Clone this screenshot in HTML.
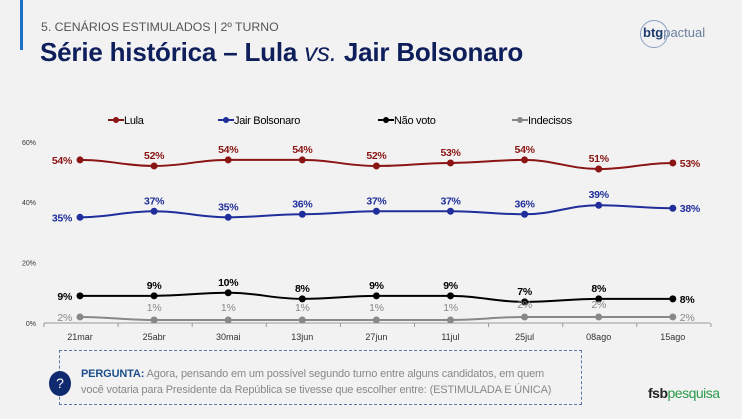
<!DOCTYPE html>
<html><head><meta charset="utf-8"><style>
body{margin:0;width:742px;height:419px;background:#f2f2f2;font-family:"Liberation Sans",sans-serif;overflow:hidden;position:relative}
.abs{position:absolute}
</style></head><body>
<div class="abs" style="left:20px;top:0;width:3px;height:50px;background:#1f6fc6"></div>
<div class="abs" style="left:41px;top:20px;font-size:12.3px;color:#555">5. CENÁRIOS ESTIMULADOS | 2º TURNO</div>
<div class="abs" style="left:40px;top:37px;font-size:26px;font-weight:bold;color:#0f1f5c;letter-spacing:-0.2px">Série histórica – Lula <span style="font-weight:normal;font-style:italic">vs.</span> Jair Bolsonaro</div>
<div class="abs" style="left:643px;top:25px;font-size:13px;color:#1d3a6e"><span style="display:inline-block;border:1px solid #8aa0c0;border-radius:50%;width:26px;height:26px;position:absolute;top:-5px;left:-3px"></span><b>btg</b><span style="color:#6a7fa0">pactual</span></div>
<svg class="abs" style="left:0;top:0" width="742" height="419">
<g id="legend" font-size="11" fill="#000"></g>
<g id="axes"></g><g id="series"></g>
</svg>
<div class="abs" style="left:59px;top:350px;width:523px;height:55px;border:1px dashed #5a78a8;box-sizing:border-box"></div>
<div class="abs" style="left:49px;top:371px;width:22px;height:25px;border-radius:50%;background:#0f2a6e;color:#fff;font-size:14px;text-align:center;line-height:25px">?</div>
<div class="abs" style="left:81px;top:366px;font-size:11px;line-height:16px;color:#888;white-space:nowrap;letter-spacing:-0.15px"><b style="color:#1d4f8c">PERGUNTA:</b> Agora, pensando em um possível segundo turno entre alguns candidatos, em quem<br>você votaria para Presidente da República se tivesse que escolher entre: (ESTIMULADA E ÚNICA)</div>
<div class="abs" style="left:648px;top:385px;font-size:14px;font-weight:bold;color:#222;letter-spacing:-0.5px">fsb<span style="color:#2a9a4a;font-weight:normal">pesquisa</span></div>
<script>
const categories=["21mar","25abr","30mai","13jun","27jun","11jul","25jul","08ago","15ago"];
const lula=[54,52,54,54,52,53,54,51,53];
const bolsonaro=[35,37,35,36,37,37,36,39,38];
const naoVoto=[9,9,10,8,9,9,7,8,8];
const indecisos=[2,1,1,1,1,1,2,2,2];
const yTicks=[0,20,40,60];
const NS="http://www.w3.org/2000/svg";
const X=i=>80+i*74.1, Y=v=>323-v*3.02;
function mk(t,a,p){const e=document.createElementNS(NS,t);for(const k in a)e.setAttribute(k,a[k]);p.appendChild(e);return e;}
const axes=document.getElementById('axes'),ser=document.getElementById('series'),leg=document.getElementById('legend');
let ax=mk('line',{x1:44,x2:710,y1:323,y2:323,stroke:'#999'},axes);


for(let i=0;i<=categories.length;i++){mk('line',{x1:44+i*74.1,x2:44+i*74.1,y1:323,y2:327,stroke:'#999'},axes);}
categories.forEach((c,i)=>{const t=mk('text',{x:X(i),y:340,'font-size':9,'text-anchor':'middle',fill:'#333'},axes);t.textContent=c;

});
yTicks.forEach(v=>{const t=mk('text',{x:36,y:Y(v)+3,'font-size':7,'text-anchor':'end',fill:'#333'},axes);t.textContent=v+'%';

});
const S=[["Lula",lula,"#8b1414",108,true],["Jair Bolsonaro",bolsonaro,"#1f2e9a",218,true],["Não voto",naoVoto,"#000",378,true],["Indecisos",indecisos,"#888",512,false]];
S.forEach(([name,d,col,lx,bold])=>{
 let p='';d.forEach((v,i)=>{const x=X(i),y=Y(v);if(i==0)p='M'+x+' '+y;else{const px=X(i-1),py=Y(d[i-1]);p+=` C${px+30} ${py} ${x-30} ${y} ${x} ${y}`;}});
 const l=mk('path',{d:p,fill:'none',stroke:col,'stroke-width':2},ser);
 
 
 d.forEach((v,i)=>{const c=mk('circle',{cx:X(i),cy:Y(v),r:3.5,fill:col},ser);
  
  
  let tx=X(i),ty=Y(v)-(bold?7:9),an='middle';
  if(i==0){tx=X(i)-8;ty=Y(v)+4;an='end';}
  if(i==d.length-1){tx=X(i)+7;ty=Y(v)+4;an='start';}
  const t=mk('text',{x:tx,y:ty,'font-size':10.5,'font-weight':bold?'bold':'normal','text-anchor':an,fill:col,'letter-spacing':'-0.3'},ser);t.textContent=v+'%';
  
  });
 mk('line',{x1:lx,x2:lx+16,y1:120,y2:120,stroke:col,'stroke-width':2},leg);
 mk('circle',{cx:lx+8,cy:120,r:3,fill:col},leg);
 const t=mk('text',{x:lx+16,y:124,'font-size':11,'letter-spacing':'-0.3'},leg);t.textContent=name;
 
 
});
</script>
</body></html>
